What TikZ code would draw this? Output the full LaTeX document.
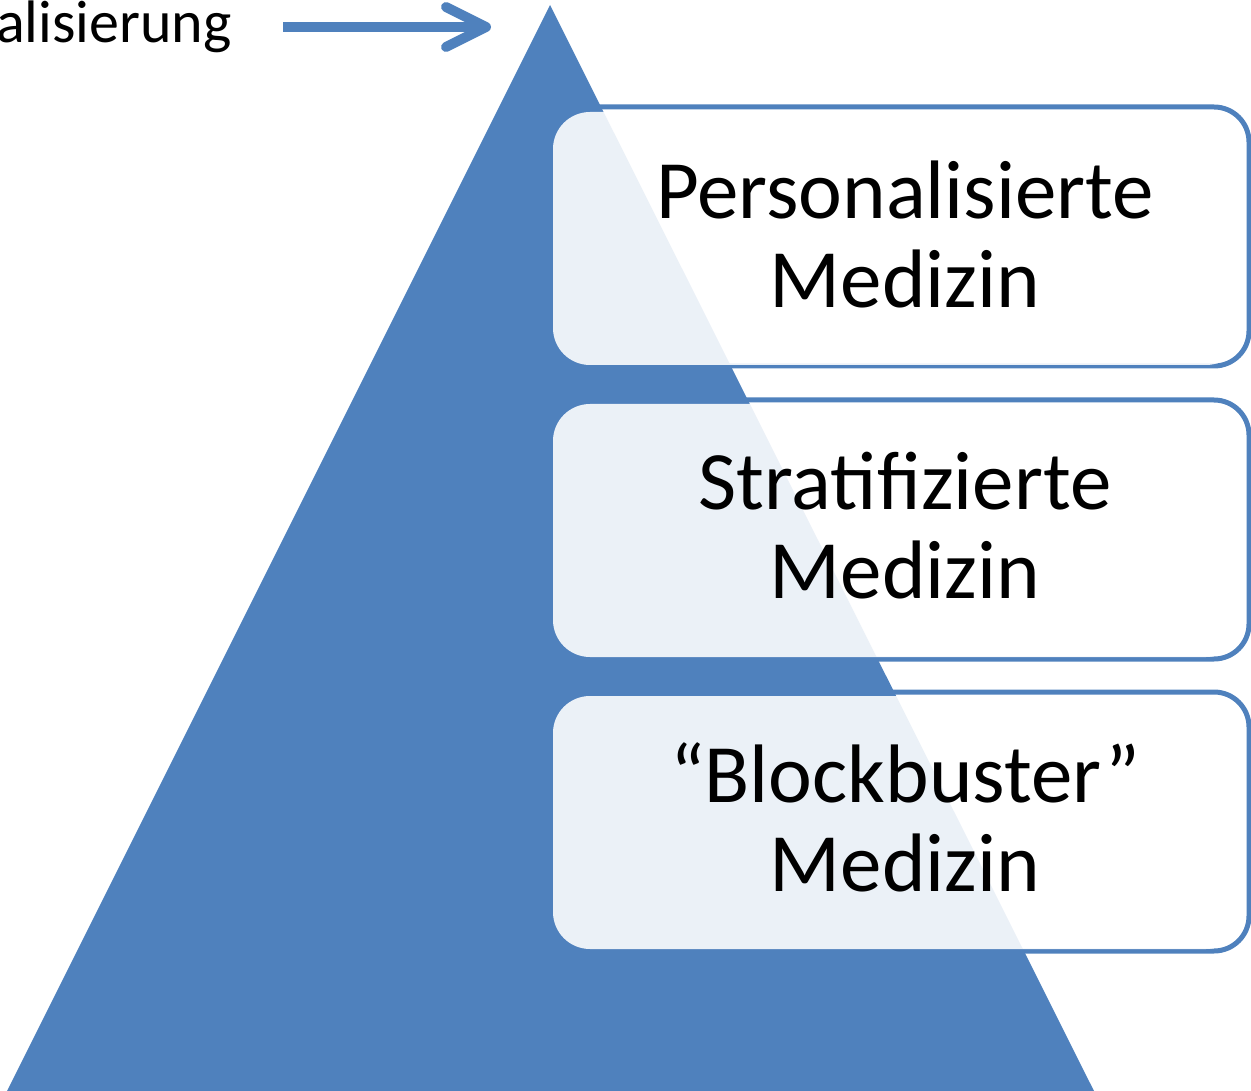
\documentclass[tikz,border=0pt]{standalone}
\usepackage{fontspec}
\setmainfont{Carlito}
\usetikzlibrary{arrows.meta,positioning}
\definecolor{pyrblue}{HTML}{4F81BD}

\begin{document}
\begin{tikzpicture}[x=1pt,y=-1pt,>={Straight Barb[round,length=40pt,width=40pt]},
  back box/.style={draw=pyrblue,fill=white,line width=5pt,rounded corners=35pt},
  level box/.style={fill=white,fill opacity=0.89,rounded corners=37pt},
  level text/.style={inner sep=0pt,align=center,font=\fontsize{83}{89}\selectfont}]

  \useasboundingbox (0,0) rectangle (1251,1091);

  % bars behind the pyramid
  \foreach \y in {107,400,692}
    \draw[back box] (550,\y) rectangle (1249,{\y+259});

  \fill[pyrblue] (550,5) -- (1094,1091) -- (7,1091) -- cycle;

  % light boxes in front
  \foreach \y in {112,404,696}
    \fill[level box] (553,\y) rectangle (1243,{\y+253});

  \node[level text] (pers) at (905,234) {Personalisierte\\Medizin};
  \node[level text] (strat) at (905,526) {Stratifizierte\\Medizin};
  \node[level text] (block) at (905,817.5) {“Blockbuster”\\Medizin};

  \node[anchor=east,inner sep=0pt,font=\fontsize{60}{62}\selectfont] (lbl) at (232,27) {Personalisierung};
  \coordinate (peak) at (491,27);

  \draw[->,pyrblue,line width=10pt] ([xshift=51pt]lbl.east) -- (peak);
\end{tikzpicture}
\end{document}
